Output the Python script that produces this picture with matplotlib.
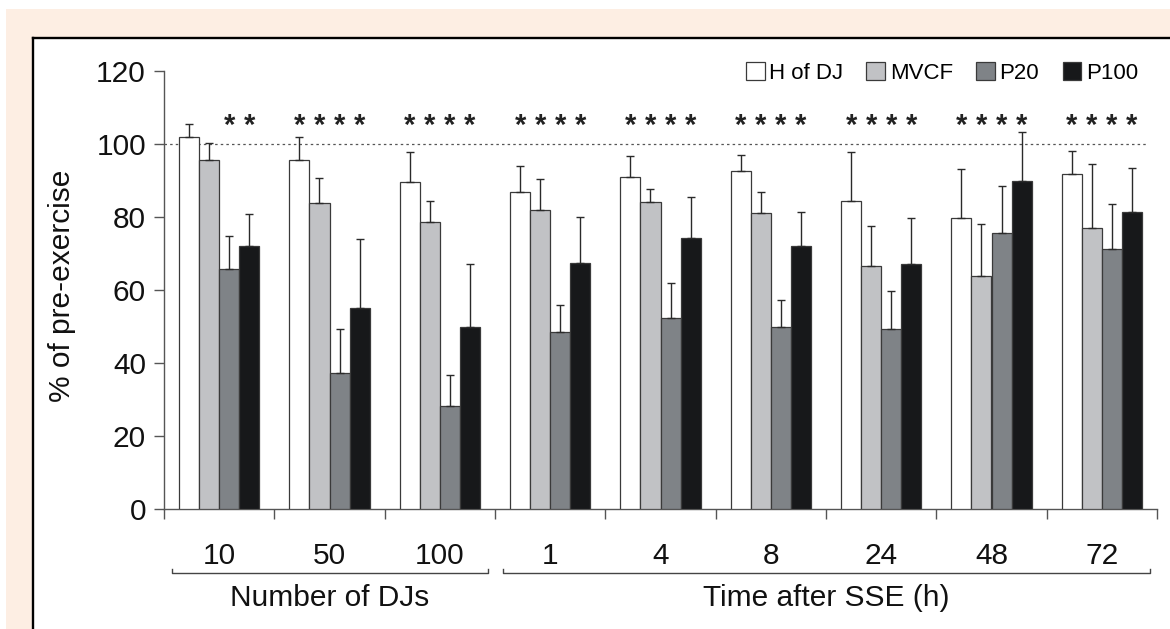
import matplotlib
matplotlib.use("Agg")
import matplotlib.pyplot as plt
import numpy as np
from matplotlib.patches import Rectangle
import matplotlib.transforms as mtransforms

# ---------------- data ----------------
groups = ["10", "50", "100", "1", "4", "8", "24", "48", "72"]
series = ["H of DJ", "MVCF", "P20", "P100"]
h_of_dj = [101.9, 95.7, 89.6, 86.8, 90.9, 92.7, 84.5, 79.8, 91.8]
mvcf    = [95.7, 83.9, 78.6, 82.0, 84.1, 81.1, 66.5, 63.7, 77.1]
p20     = [65.7, 37.3, 28.3, 48.5, 52.2, 49.8, 49.4, 75.6, 71.3]
p100    = [72.0, 55.0, 49.9, 67.5, 74.3, 72.0, 67.0, 89.9, 81.4]
h_err    = [3.6, 6.1, 8.3, 7.1, 5.9, 4.4, 13.3, 13.3, 6.4]
mvcf_err = [4.5, 6.9, 5.9, 8.3, 3.7, 5.7, 10.9, 14.4, 17.4]
p20_err  = [9.0, 12.0, 8.3, 7.3, 9.8, 7.5, 10.4, 12.8, 12.2]
p100_err = [8.8, 18.9, 17.2, 12.4, 11.1, 9.4, 12.8, 13.5, 12.1]
# significance asterisks per group (which series are marked)
stars = [[0, 0, 1, 1]] + [[1, 1, 1, 1]] * 8
section_labels = ["Number of DJs", "Time after SSE (h)"]
section_groups = [(0, 2), (3, 8)]

values = [h_of_dj, mvcf, p20, p100]
errors = [h_err, mvcf_err, p20_err, p100_err]
colors = ["#ffffff", "#c1c2c5", "#7f8387", "#17181a"]

W, H = 1170, 629
fig = plt.figure(figsize=(W / 100, H / 100), dpi=100, facecolor="white")
plt.rcParams["font.family"] = ["Liberation Sans", "DejaVu Sans"]

# background layer in pixel coordinates (clipped to the canvas)
bg = fig.add_axes([0, 0, 1, 1], zorder=-5)
bg.set_xlim(0, W)
bg.set_ylim(H, 0)
bg.axis("off")
bg.add_patch(Rectangle((6, 9), W, H, facecolor="#fdeee3", edgecolor="none"))
bg.add_patch(Rectangle((33, 38), W, H, facecolor="white", edgecolor="none"))
bg.plot([33, 33], [H + 10, 38], color="black", linewidth=1.7)
bg.plot([33, W + 10], [38, 38], color="black", linewidth=1.7)

ax = fig.add_axes([164 / W, 1 - 509 / H, 993 / W, 438 / H])
ax.set_facecolor("none")

n = len(groups)
x = np.arange(n) + 0.5
bw = 20 / 110
for i, (vals, errs, col, name) in enumerate(zip(values, errors, colors, series)):
    pos = x + (i - 1.5) * bw
    ax.bar(pos, vals, width=bw, color=col, edgecolor="#3a3a3a", linewidth=0.9,
           label=name, zorder=3)
    ax.errorbar(pos, vals, yerr=[np.zeros(n), errs], fmt="none",
                ecolor="#2a2a2a", elinewidth=1.0, capsize=2.6, capthick=1.0,
                zorder=4)
    for g in range(n):
        if stars[g][i]:
            ax.text(pos[g], 105.0, "*", ha="center", va="center",
                    fontsize=21, fontweight="bold", color="#222222")

ax.axhline(100, color="#555555", linewidth=0.9, linestyle=(0, (2.0, 2.5)),
           xmin=0, xmax=8.92 / 9, zorder=2)

ax.set_xlim(0, n)
ax.set_ylim(0, 120)
ax.set_yticks([0, 20, 40, 60, 80, 100, 120])
ax.tick_params(axis="y", labelsize=21.5, length=7, width=1.0, color="#555555",
               pad=6, labelcolor="#111111")
ax.set_xticks(np.arange(n + 1))
ax.set_xticklabels([])
ax.tick_params(axis="x", which="major", length=7, width=1.0, color="#555555")
ax.set_xticks(x, minor=True)
ax.set_xticklabels(groups, minor=True)
ax.tick_params(axis="x", which="minor", length=0, labelsize=21.5, pad=24,
               labelcolor="#111111")

for s in ["top", "right"]:
    ax.spines[s].set_visible(False)
for s in ["left", "bottom"]:
    ax.spines[s].set_color("#555555")
    ax.spines[s].set_linewidth(1.0)

ax.set_ylabel("% of pre-exercise", fontsize=21.5, color="#111111")
ax.yaxis.set_label_coords(-0.089, 0.51)

# section brackets
trans = mtransforms.blended_transform_factory(ax.transData, ax.transAxes)
by = -0.147
for (g0, g1), lab in zip(section_groups, section_labels):
    x0, x1 = g0 + 0.07, g1 + 1 - 0.06
    ax.plot([x0, x0, x1, x1], [by + 0.011, by, by, by + 0.011], transform=trans,
            color="#444444", linewidth=1.0, clip_on=False)
    ax.text((g0 + g1 + 1) / 2, -0.203, lab, transform=trans, ha="center",
            va="center", fontsize=21.5, color="#111111")

leg = fig.legend(loc="center right", bbox_to_anchor=(1138 / W, 1 - 73 / H),
                 ncol=4, frameon=False, fontsize=16, handlelength=0.85,
                 handleheight=0.85, handletextpad=0.2, columnspacing=1.05,
                 borderpad=0, borderaxespad=0)

fig.savefig("out.png", dpi=100)
